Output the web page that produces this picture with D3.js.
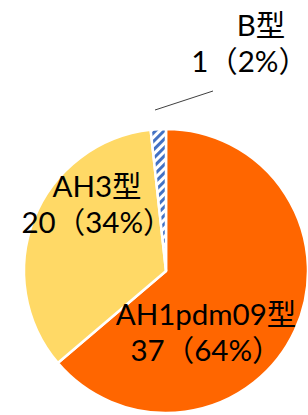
<!DOCTYPE html>
<html>
<head>
<meta charset="utf-8">
<script src="https://cdn.jsdelivr.net/npm/d3@7"></script>
<style>
  html, body { margin: 0; padding: 0; background: #fff; }
  svg { display: block; }
  text { font-family: Lato, "Noto Sans CJK JP", sans-serif; }
</style>
</head>
<body>
<svg id="chart" width="308" height="415"></svg>
<script>
// ---- data ----
const categories = ["AH1pdm09型", "AH3型", "B型"];
const values = [37, 20, 1];
const colors = ["#FF6600", "#FFD966", "url(#hatch)"];

// ---- layout ----
const W = 308, H = 415;
const cx = 166, cy = 271, R = 142;
const fontSize = 29.5, lineGap = 36;
// label anchor: [centre x line1, baseline line1, x line2, anchor line2]
const labelPos = [
  [206, 325, 206, "middle"],
  [97, 197, 97, "middle"],
  [261, 36, 308, "end"]
];

const svg = d3.select("#chart");
const defs = svg.append("defs");
const pat = defs.append("pattern")
  .attr("id", "hatch")
  .attr("patternUnits", "userSpaceOnUse")
  .attr("width", 6).attr("height", 6)
  .attr("patternTransform", "rotate(45)");
pat.append("rect").attr("width", 6).attr("height", 6).attr("fill", "#fff");
pat.append("rect").attr("x", 0).attr("width", 3).attr("height", 6).attr("fill", "#4472C4");

const total = d3.sum(values);
const pie = d3.pie().sort(null).value(d => d)(values);
const arc = d3.arc().innerRadius(0).outerRadius(R);

const g = svg.append("g").attr("transform", `translate(${cx},${cy})`);
g.selectAll("path")
  .data(pie)
  .join("path")
  .attr("d", arc)
  .attr("fill", (d, i) => colors[i])
  .attr("stroke", "#fff")
  .attr("stroke-width", 2.5)
  .attr("stroke-linejoin", "round");

// leader line for the small slice
svg.append("line")
  .attr("x1", 155).attr("y1", 110)
  .attr("x2", 213).attr("y2", 91)
  .attr("stroke", "#404040")
  .attr("stroke-width", 1);

// labels (one text element per label, two lines)
values.forEach((v, i) => {
  const pct = Math.round(v / total * 100);
  const [x1, y1, x2, a2] = labelPos[i];
  const t = svg.append("text")
    .attr("font-size", fontSize)
    .attr("fill", "#000");
  t.append("tspan")
    .attr("text-anchor", "middle")
    .attr("x", x1).attr("y", y1)
    .text(categories[i]);
  t.append("tspan")
    .attr("text-anchor", a2)
    .attr("x", x2).attr("y", y1 + lineGap)
    .text(`${v}（${pct}%）`);
});
</script>
</body>
</html>
